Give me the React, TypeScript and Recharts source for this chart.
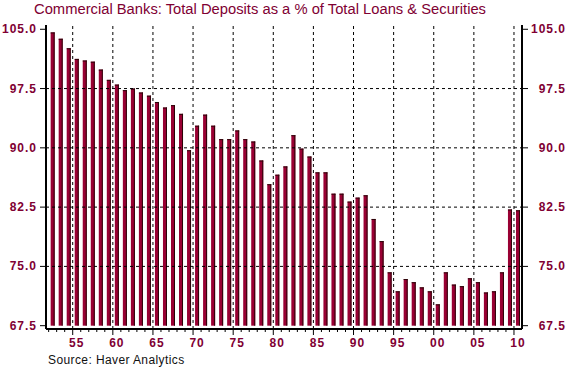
import { ComposedChart, Bar, Line, XAxis, YAxis, ReferenceLine } from "recharts";

const firstYear = 1952;
const deposits = [
  104.6, 103.8, 102.6, 101.25, 101.05, 100.9, 99.9, 98.6, 98.0, 97.3,
  97.5, 97.0, 96.6, 95.8, 95.1, 95.4, 94.3, 89.7, 92.8, 94.2,
  92.8, 91.1, 91.1, 92.2, 91.1, 90.8, 88.4, 85.4, 86.6, 87.65,
  91.6, 89.9, 88.9, 86.9, 86.9, 84.2, 84.2, 83.2, 83.7, 84.0,
  81.0, 78.2, 74.25, 71.85, 73.4, 73.0, 72.35, 71.85, 70.2, 74.25,
  72.7, 72.5, 73.5, 73.0, 71.7, 71.85, 74.25, 82.2, 82.1,
];
const years = deposits.map((_, i) => firstYear + i);

const majorYears = [1955, 1960, 1965, 1970, 1975, 1980, 1985, 1990, 1995, 2000, 2005, 2010];
const majorLabels = ["55", "60", "65", "70", "75", "80", "85", "90", "95", "00", "05", "10"];
const yTicks = [67.5, 75, 82.5, 90, 97.5, 105];
const yGrid = [75, 82.5, 90, 97.5];
const baseLevel = 67.5;

// bars sit in the middle of their year
const data = years.map((year, i) => ({ x: year + 0.5, value: deposits[i] }));

const RED = "#800033";
const FONT = "'Liberation Sans', Arial, sans-serif";
const xDomain = [1951.67, 2011];
const yDomain = [67.08, 105.54];

function XTick(props: any) {
  const { x, y, payload } = props;
  const idx = majorYears.indexOf(payload.value);
  const major = idx >= 0;
  return (
    <g>
      <line x1={x} x2={x} y1={y} y2={y + (major ? 6 : 3)} stroke="#000" strokeWidth={1} />
      {major && (
        <text x={x + 4} y={y + 18} textAnchor="middle" fill={RED} fontSize={12} fontWeight="bold" letterSpacing={1} fontFamily={FONT}>
          {majorLabels[idx]}
        </text>
      )}
    </g>
  );
}

function YTickLeft(props: any) {
  const { x, y, payload } = props;
  return (
    <text x={x} y={y + 4} textAnchor="end" fill={RED} fontSize={12} fontWeight="bold" letterSpacing={1} fontFamily={FONT}>
      {payload.value.toFixed(1)}
    </text>
  );
}

function YTickRight(props: any) {
  const { x, y, payload } = props;
  return (
    <text x={x + 35} y={y + 4} textAnchor="end" fill={RED} fontSize={12} fontWeight="bold" letterSpacing={1} fontFamily={FONT}>
      {payload.value.toFixed(1)}
    </text>
  );
}

function BarShape(props: any) {
  const { x, y, width, height } = props;
  if (!height || height <= 0) return null;
  return (
    <g>
      <rect x={x} y={y} width={width} height={height} fill="#990033" />
      <rect x={x + width - 1} y={y} width={1} height={height} fill="#2a0508" />
      <rect x={x} y={y} width={width} height={1} fill="#2a0508" />
    </g>
  );
}

export default function App() {
  return (
    <div style={{ position: "absolute", left: 0, top: 0, width: 575, height: 370, background: "#fff" }}>
      <div
        style={{
          position: "absolute",
          left: 34,
          top: 2,
          fontFamily: FONT,
          fontSize: 14.75,
          lineHeight: "14px",
          color: RED,
          whiteSpace: "nowrap",
        }}
      >
        Commercial Banks: Total Deposits as a % of Total Loans &amp; Securities
      </div>
      <ComposedChart width={575} height={370} data={data} margin={{ top: 25, right: 0, bottom: 0, left: 0 }}>
        <XAxis
          xAxisId="top"
          orientation="top"
          type="number"
          dataKey="x"
          domain={xDomain}
          height={0}
          tick={false}
          tickLine={false}
          axisLine={{ stroke: "#000", strokeWidth: 2 }}
        />
        <XAxis
          xAxisId="main"
          type="number"
          dataKey="x"
          domain={xDomain}
          ticks={years}
          interval={0}
          height={41}
          tickSize={0}
          tickMargin={0}
          tickLine={false}
          tick={<XTick />}
          axisLine={{ stroke: "#000", strokeWidth: 2 }}
        />
        <YAxis
          yAxisId="left"
          domain={yDomain}
          ticks={yTicks}
          interval={0}
          width={46}
          tickSize={6}
          tickMargin={3}
          tick={<YTickLeft />}
          tickLine={{ stroke: "#000" }}
          axisLine={{ stroke: "#000", strokeWidth: 2 }}
        />
        <YAxis
          yAxisId="right"
          orientation="right"
          domain={yDomain}
          ticks={yTicks}
          interval={0}
          width={53}
          tickSize={6}
          tickMargin={3}
          tick={<YTickRight />}
          tickLine={{ stroke: "#000" }}
          axisLine={{ stroke: "#000", strokeWidth: 2 }}
        />
        {yGrid.map((v) => (
          <ReferenceLine key={`h${v}`} y={v} xAxisId="main" yAxisId="left" stroke="#000" strokeDasharray="3 3" />
        ))}
        {majorYears.map((yr) => (
          <ReferenceLine key={`v${yr}`} x={yr} xAxisId="main" yAxisId="left" stroke="#000" strokeDasharray="3 3" />
        ))}
        <Bar
          xAxisId="main"
          yAxisId="left"
          dataKey={(d: any) => [baseLevel, d.value]}
          barSize={4}
          shape={<BarShape />}
          isAnimationActive={false}
        />
        {/* invisible series so the top and right axes get drawn */}
        <Line
          xAxisId="top"
          yAxisId="right"
          dataKey="value"
          stroke="none"
          dot={false}
          activeDot={false}
          legendType="none"
          isAnimationActive={false}
        />
      </ComposedChart>
      <div
        style={{
          position: "absolute",
          left: 48,
          top: 354,
          fontFamily: FONT,
          fontSize: 12,
          lineHeight: "12px",
          letterSpacing: 0.4,
          color: "#111",
          whiteSpace: "nowrap",
        }}
      >
        Source: Haver Analytics
      </div>
    </div>
  );
}
